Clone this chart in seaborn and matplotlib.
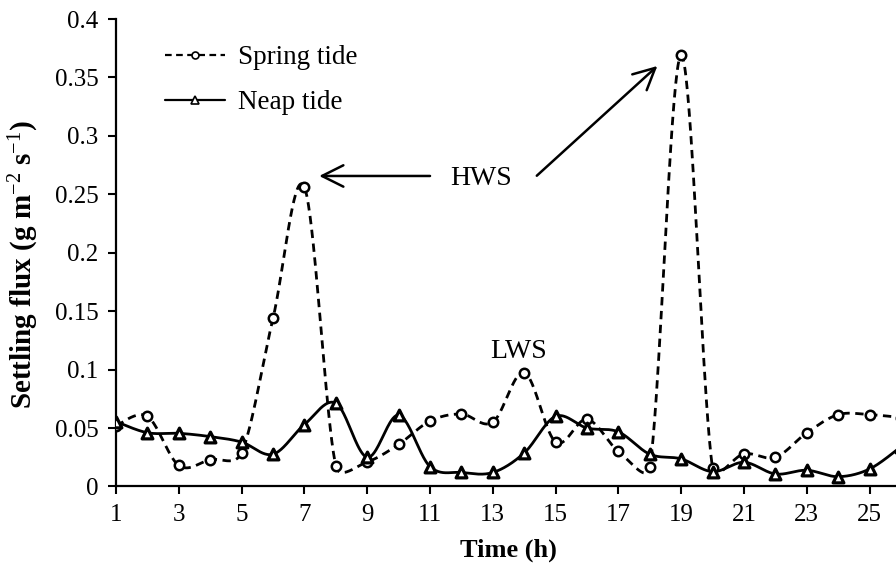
import numpy as np
import pandas as pd
import matplotlib
matplotlib.use("Agg")
import matplotlib.pyplot as plt
import seaborn as sns
from matplotlib.lines import Line2D
from matplotlib.ticker import FuncFormatter

# Hourly settling flux (g m-2 s-1)
hours = list(range(1, 27))
spring_tide = [0.052, 0.060, 0.018, 0.023, 0.029, 0.144, 0.256, 0.0176, 0.021,
               0.036, 0.056, 0.062, 0.055, 0.0975, 0.038, 0.0575, 0.030, 0.0165,
               0.369, 0.0156, 0.028, 0.025, 0.046, 0.0615, 0.0615, 0.059]
neap_tide = [0.0555, 0.046, 0.0455, 0.0427, 0.038, 0.0276, 0.053, 0.0713, 0.025,
             0.061, 0.017, 0.012, 0.012, 0.0287, 0.060, 0.050, 0.0467, 0.0276,
             0.0236, 0.0127, 0.0207, 0.0107, 0.0139, 0.0084, 0.015, 0.034]
x_tick_labels = [1, 3, 5, 7, 9, 11, 13, 15, 17, 19, 21, 23, 25]
y_ticks = [0, 0.05, 0.1, 0.15, 0.2, 0.25, 0.3, 0.35, 0.4]

SERIF = "Liberation Serif"
sns.set_style("ticks")
plt.rcParams["font.family"] = [SERIF, "DejaVu Serif"]
plt.rcParams["mathtext.fontset"] = "custom"
plt.rcParams["mathtext.rm"] = SERIF
plt.rcParams["mathtext.it"] = SERIF + ":italic"
plt.rcParams["mathtext.bf"] = SERIF + ":bold"
for key in ("text.color", "axes.labelcolor", "xtick.color", "ytick.color",
            "axes.edgecolor"):
    plt.rcParams[key] = "black"


def smooth_curve(xs, ys, sx=31.375, sy=1169.0, n=40, cap=0.5):
    """Bezier smoothing through every point (spreadsheet-style smoothed line)."""
    P = np.column_stack([np.asarray(xs, float) * sx, np.asarray(ys, float) * sy])
    m = len(P)
    pts = []
    ts = np.linspace(0, 1, n)[:, None]
    for i in range(m - 1):
        p0, p1, p2, p3 = P[max(i - 1, 0)], P[i], P[i + 1], P[min(i + 2, m - 1)]
        seg = np.linalg.norm(p2 - p1)
        t1 = (p2 - p0) / 6.0
        t2 = (p3 - p1) / 6.0
        for t in (t1, t2):
            L = np.linalg.norm(t)
            if L > cap * seg:
                t *= cap * seg / L
        c1, c2 = p1 + t1, p2 - t2
        B = ((1 - ts) ** 3) * p1 + 3 * ((1 - ts) ** 2) * ts * c1 \
            + 3 * (1 - ts) * ts ** 2 * c2 + ts ** 3 * p2
        pts.append(B if i == 0 else B[1:])
    B = np.vstack(pts)
    return B[:, 0] / sx, B[:, 1] / sy


fig = plt.figure(figsize=(8.96, 5.71), dpi=100)
ax = fig.add_axes([0.1295, 0.148, 0.8705, 0.8187])

sx_, sy_ = smooth_curve(hours, spring_tide)
nx_, ny_ = smooth_curve(hours, neap_tide)
spring_curve = pd.DataFrame({"t": sx_, "flux": sy_})
neap_curve = pd.DataFrame({"t": nx_, "flux": ny_})

sns.lineplot(data=spring_curve, x="t", y="flux", sort=False, estimator=None,
             color="black", lw=2.0, ax=ax)
ax.lines[-1].set_linestyle((0, (3.0, 2.0)))
sns.lineplot(data=neap_curve, x="t", y="flux", sort=False, estimator=None,
             color="black", lw=2.0, ax=ax)

points = pd.DataFrame({"t": hours, "spring": spring_tide, "neap": neap_tide})
sns.scatterplot(data=points, x="t", y="spring", marker="o", s=46,
                facecolor="white", edgecolor="black", linewidth=1.8, ax=ax, zorder=4)
sns.scatterplot(data=points, x="t", y="neap", marker="^", s=60,
                facecolor="white", edgecolor="black", linewidth=2.3, ax=ax, zorder=4)

ax.set_xlim(1, 25.84)
ax.set_ylim(0, 0.4)
ax.set_xticks(x_tick_labels)
ax.set_xticklabels([str(v) for v in x_tick_labels])
ax.set_yticks(y_ticks)
ax.yaxis.set_major_formatter(FuncFormatter(lambda v, p: f"{v:g}"))

for side in ("top", "right"):
    ax.spines[side].set_visible(False)
for side in ("left", "bottom"):
    ax.spines[side].set_linewidth(1.6)
    ax.spines[side].set_color("black")
ax.tick_params(axis="both", direction="out", length=5.5, width=1.5,
               colors="black", labelsize=18, pad=7)

ax.set_xlabel("Time (h)", fontsize=19, fontweight="bold")
ax.set_ylabel(r"Settling flux (g m$^{-2}$ s$^{-1}$)", fontsize=21, fontweight="bold")
ax.xaxis.set_label_coords(0.503, -0.112)
ax.yaxis.set_label_coords(-0.096, 0.474)

# annotations
arrow_kw = dict(arrowstyle="->,head_length=0.7,head_width=0.35", lw=1.8,
                color="black", mutation_scale=22, shrinkA=0, shrinkB=0)
ax.annotate("", xy=(7.47, 0.2657), xytext=(11.0, 0.2657), arrowprops=arrow_kw)
ax.annotate("", xy=(18.24, 0.3598), xytext=(14.40, 0.2659), arrowprops=arrow_kw)
ax.text(12.61, 0.2637, "HWS", fontsize=20, ha="center", va="center")
ax.text(13.83, 0.1153, "LWS", fontsize=20, ha="center", va="center")

handles = [
    Line2D([], [], color="black", lw=1.6, linestyle=(0, (3.0, 2.0)), marker="o",
           markersize=5, markerfacecolor="white", markeredgecolor="black",
           markeredgewidth=1.2),
    Line2D([], [], color="black", lw=1.6, marker="^", markersize=5.5,
           markerfacecolor="white", markeredgecolor="black", markeredgewidth=1.2),
]
ax.legend(handles, ["Spring tide", "Neap tide"], loc="upper left",
          bbox_to_anchor=(0.063, 0.944), frameon=False, fontsize=19.5,
          handlelength=2.2, handletextpad=0.5, labelspacing=0.74,
          borderpad=0, borderaxespad=0)

fig.savefig("out.png", dpi=100)
